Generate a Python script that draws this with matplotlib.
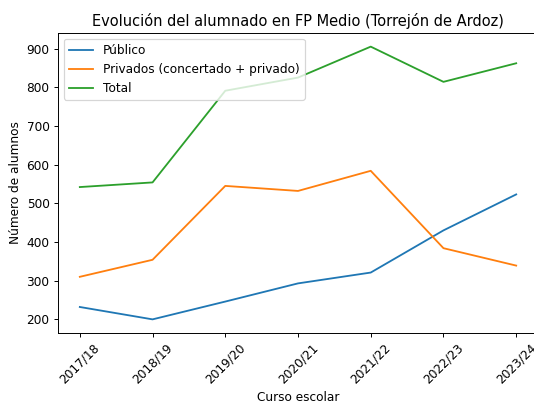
import matplotlib
matplotlib.use("Agg")
import matplotlib.pyplot as plt

# school years and student counts
cursos = ["2017/18", "2018/19", "2019/20", "2020/21", "2021/22", "2022/23", "2023/24"]
publico = [232, 200, 246, 293, 321, 430, 523]
privados = [310, 354, 545, 532, 584, 384, 339]
total = [542, 554, 791, 825, 905, 814, 862]

# original looks like a 100 dpi figure scaled down a bit
dpi = 87.4
fig = plt.figure(figsize=(534 / dpi, 401 / dpi), dpi=dpi)
# axes runs slightly past the right edge, as in the cropped original
ax = fig.add_axes([58 / 534, 68 / 401, 480 / 534, 300 / 401])

ax.plot(cursos, publico, label="Público")
ax.plot(cursos, privados, label="Privados (concertado + privado)")
ax.plot(cursos, total, label="Total")

ax.set_title("Evolución del alumnado en FP Medio (Torrejón de Ardoz)")
ax.set_xlabel("Curso escolar")
ax.set_ylabel("Número de alumnos")
ax.tick_params(axis="x", labelrotation=45)
ax.legend(loc="upper left")

fig.savefig("out.png", dpi=dpi)
